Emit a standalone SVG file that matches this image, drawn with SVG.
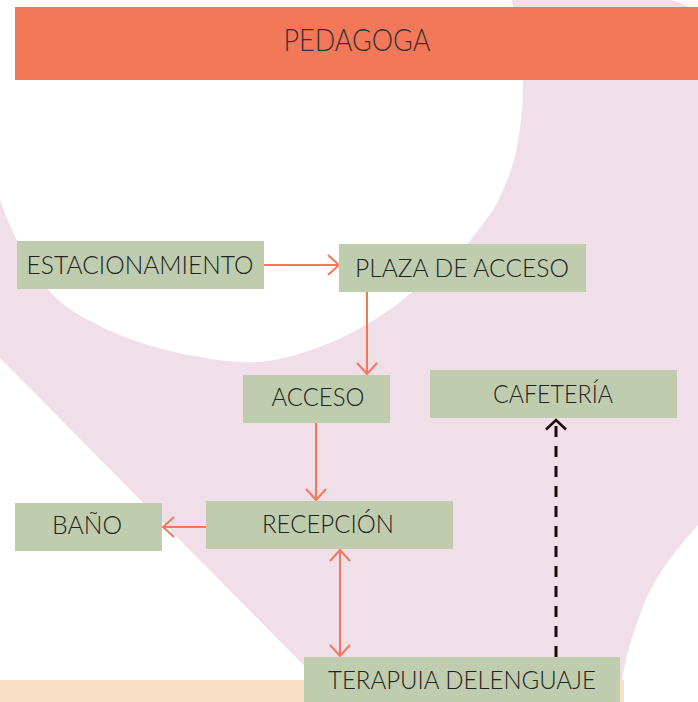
<svg xmlns="http://www.w3.org/2000/svg" width="698" height="702" viewBox="0 0 698 702">
  <style>
    .box { fill: #bfcdae; }
    .lbl { font-family: Lato, "Open Sans", sans-serif; font-weight: 300; font-size: 26px; fill: #222222; text-anchor: middle; }
    .conn { stroke: #f27859; stroke-width: 2; fill: none; }
    .dash { stroke: #1e0b0f; stroke-width: 3; fill: none; stroke-dasharray: 11 9; }
  </style>
  <defs>
    <marker id="arr" viewBox="0 0 14 22" refX="12" refY="11" markerWidth="14" markerHeight="22" markerUnits="userSpaceOnUse" orient="auto-start-reverse">
      <path d="M1,1 L12,11 L1,21" fill="none" stroke="#f27859" stroke-width="2"/>
    </marker>
    <marker id="arrDark" viewBox="0 0 13 22" refX="11" refY="11" markerWidth="13" markerHeight="22" markerUnits="userSpaceOnUse" orient="auto">
      <path d="M1.5,1 L11,11 L1.5,21" fill="none" stroke="#1e0b0f" stroke-width="2.6"/>
    </marker>
  </defs>

  <g id="background">
    <rect x="0" y="0" width="698" height="702" fill="#ffffff"/>
    <path fill="#f0dfe9" d="M512,0 L672,0 L698,10 L698,525 C680,545 655,575 643,607 C632,635 622,665 620,702 L340,702 L0,358 L0,200
      C8,222 20,250 33,267
      C44.2,284.3 50.3,294.8 67,307
      C83.7,319.2 110.8,331.7 133,340
      C155.2,348.3 178.8,353.3 200,357
      C221.2,360.7 238.3,363 260,362
      C281.7,360 306.7,352 330,343
      C353.3,333 380,318 400,302
      C425,282 456.3,258 473,237
      C486,220 494,210 500,197
      C507,182 513,166 517,147
      C521,127 523.5,104 523,80
      C522.5,55 516,25 512,0 Z"/>
    <rect x="0" y="680" width="624" height="22" fill="#f9dfc6"/>
  </g>

  <g id="header">
    <rect x="15" y="7" width="683" height="73" fill="#f27859"/>
    <text x="357" y="51" font-family="Lato, 'Open Sans', sans-serif" font-weight="300" font-size="31" fill="#333333" text-anchor="middle" textLength="147" lengthAdjust="spacingAndGlyphs">PEDAGOGA</text>
  </g>

  <g id="connectors">
    <line class="conn" x1="264" y1="265" x2="339" y2="265" marker-end="url(#arr)"/>
    <line class="conn" x1="367" y1="292" x2="367" y2="374" marker-end="url(#arr)"/>
    <line class="conn" x1="316" y1="423" x2="316" y2="500" marker-end="url(#arr)"/>
    <line class="conn" x1="206" y1="527" x2="163" y2="527" marker-end="url(#arr)"/>
    <line class="conn" x1="340" y1="550" x2="340" y2="656" marker-start="url(#arr)" marker-end="url(#arr)"/>
    <line class="dash" x1="556" y1="657" x2="556" y2="420" marker-end="url(#arrDark)"/>
  </g>

  <g id="estacionamiento">
    <rect class="box" x="17" y="241" width="247" height="48"/>
    <text class="lbl" x="140" y="274" textLength="227" lengthAdjust="spacingAndGlyphs">ESTACIONAMIENTO</text>
  </g>
  <g id="plaza">
    <rect class="box" x="339" y="244" width="247" height="48"/>
    <text class="lbl" x="462" y="277" textLength="214" lengthAdjust="spacingAndGlyphs">PLAZA DE ACCESO</text>
  </g>
  <g id="acceso">
    <rect class="box" x="243" y="375" width="147" height="48"/>
    <text class="lbl" x="318" y="406" textLength="93" lengthAdjust="spacingAndGlyphs">ACCESO</text>
  </g>
  <g id="cafeteria">
    <rect class="box" x="430" y="370" width="247" height="48"/>
    <text class="lbl" x="553" y="403" textLength="120" lengthAdjust="spacingAndGlyphs">CAFETERÍA</text>
  </g>
  <g id="bano">
    <rect class="box" x="15" y="503" width="147" height="48"/>
    <text class="lbl" x="87" y="534" textLength="70" lengthAdjust="spacingAndGlyphs">BAÑO</text>
  </g>
  <g id="recepcion">
    <rect class="box" x="206" y="501" width="247" height="48"/>
    <text class="lbl" x="328" y="533" textLength="132" lengthAdjust="spacingAndGlyphs">RECEPCIÓN</text>
  </g>
  <g id="terapia">
    <rect class="box" x="304" y="657" width="316" height="45"/>
    <text class="lbl" x="462" y="689" textLength="268" lengthAdjust="spacingAndGlyphs">TERAPUIA DELENGUAJE</text>
  </g>
</svg>
